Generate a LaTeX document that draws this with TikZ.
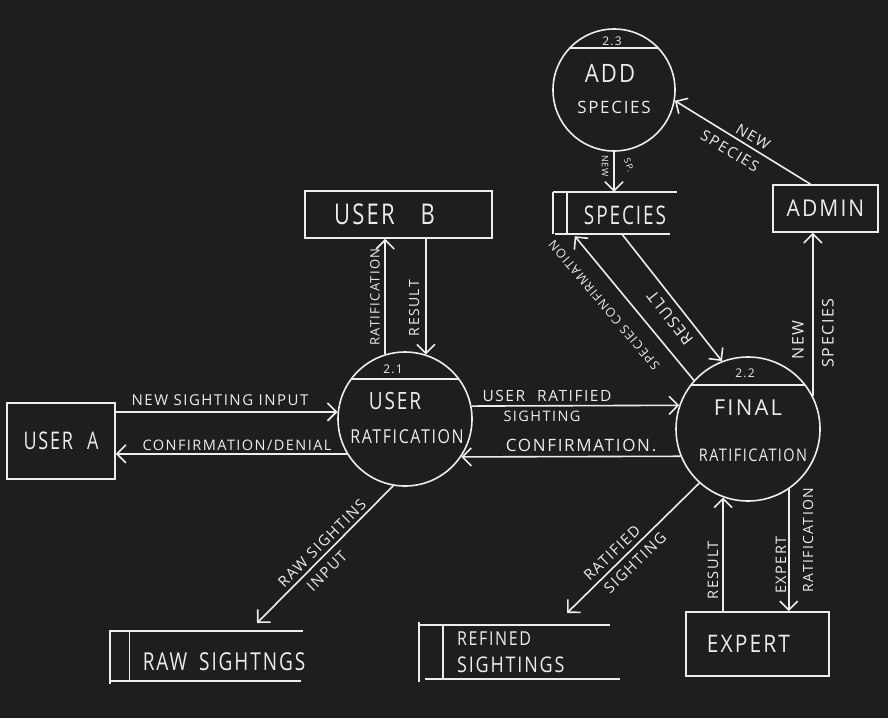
\documentclass[tikz,border=0pt]{standalone}
\usepackage{fontspec}
\setmainfont{Open Sans}[LetterSpace=10]
\usetikzlibrary{arrows.meta,calc}
\definecolor{bg}{HTML}{1E1E1E}
\definecolor{fg}{HTML}{EDEDED}
\newcommand\myfs[1]{\fontsize{#1}{#1}\selectfont}
\newcommand\Tall[2]{\scalebox{1}[#1]{#2}}
\begin{document}
\begin{tikzpicture}[x=1pt,y=-1pt,
  every node/.style={text=fg, inner sep=0pt},
  ln/.style={draw=fg, line width=1.6pt},
  arr/.style={ln, -{Straight Barb[length=9pt,width=18pt,line width=1.6pt]}},
  box/.style={draw=fg, line width=1.6pt, rectangle},
  proc/.style={draw=fg, line width=1.6pt, circle},
  fs/.style={font=\myfs{#1}}]
\fill[bg] (0,0) rectangle (888,718);
\useasboundingbox (0,0) rectangle (888,718);

% ---- entities
\node[box, minimum width=108pt, minimum height=76pt, fs=18] (ua) at (61,441) {\Tall{1.35}{USER\hspace{14pt}A}};
\node[box, minimum width=187pt, minimum height=47pt, fs=22] (ub) at (398.5,214.5) {\Tall{1.3}{USER\hspace{26pt}B}\kern28pt};
\node[box, minimum width=105pt, minimum height=47pt, fs=21] (adm) at (825.5,208.5) {\Tall{1.1}{ADMIN}};
\node[box, minimum width=143pt, minimum height=64pt, fs=21] (ex) at (757.5,644) {\Tall{1.15}{EXPERT}\kern18pt};

% ---- processes
\node[proc, minimum size=122pt] (add) at (614,90) {};
\node[proc, minimum size=134pt] (ur) at (405,419) {};
\node[proc, minimum size=144pt] (fr) at (748,429) {};
\draw[ln] ($(add.center)+(-44,-42)$) -- ($(add.center)+(44,-42)$);
\draw[ln] ($(ur.center)+(-54,-40)$) -- ($(ur.center)+(54,-40)$);
\draw[ln] ($(fr.center)+(-57,-44)$) -- ($(fr.center)+(57,-44)$);
\node[fs=12] (n23) at (612,41) {2.3};
\node[fs=22] (addt1) at (610,73) {\Tall{1.15}{ADD}};
\node[fs=17] (addt2) at (614,107) {SPECIES};
\node[fs=12] (n21) at (393,369) {2.1};
\node[fs=19] (urt1) at (395,401) {\Tall{1.25}{USER}};
\node[fs=16] (urt2) at (407,437) {\Tall{1.2}{RATFICATION}};
\node[fs=12] (n22) at (745,373) {2.2};
\node[fs=22] (frt1) at (748,408) {FINAL};
\node[fs=14.5] (frt2) at (753,455) {\Tall{1.2}{RATIFICATION}};

% ---- data stores
\node[minimum width=124pt, minimum height=42pt] (sp) at (615,213) {};
\draw[ln] (sp.north west) -- (sp.north east);
\draw[ln] ($(sp.south west)+(2,0)$) -- ($(sp.south east)+(-7,0)$);
\draw[ln] (sp.north west) -- (sp.south west);
\draw[ln] ($(sp.north west)+(14,0)$) -- ($(sp.south west)+(14,0)$);
\node[fs=19] (spt) at (625,215) {\Tall{1.35}{SPECIES}};

\node[minimum width=193pt, minimum height=50pt] (raw) at (206.5,656) {};
\draw[ln] (raw.north west) -- (raw.north east);
\draw[ln] (raw.south west) -- ($(raw.south east)+(-2,0)$);
\draw[ln] ($(raw.north west)+(0,-1)$) -- ($(raw.south west)+(0,3)$);
\draw[ln] ($(raw.north west)+(19.5,0)$) -- ($(raw.south west)+(19.5,0)$);
\node[fs=19] (rawt) at (224,662) {\Tall{1.3}{RAW\hspace{12pt}SIGHTNGS}};

\node[minimum width=201pt, minimum height=54pt] (rs) at (519.5,652) {};
\draw[ln] (rs.north west) -- ($(rs.north east)+(-10,0)$);
\draw[ln] ($(rs.south west)+(6,0)$) -- (rs.south east);
\draw[ln] ($(rs.north west)+(0,-3)$) -- ($(rs.south west)+(0,3)$);
\draw[ln] ($(rs.north west)+(24,0)$) -- ($(rs.south west)+(24,0)$);
\node[fs=16, anchor=west] (rst1) at (457,639) {\Tall{1.2}{REFINED}};
\node[fs=18, anchor=west] (rst2) at (457,665) {\Tall{1.2}{SIGHTINGS}};

% ---- flows
\draw[arr] (ua.east |- ur.174) -- (ur.174);
\draw[arr] (ur.211.5) -- (ur.211.5 -| ua.east);
\draw[arr] (ur.107) -- (ur.107 |- ub.south);
\draw[arr] (ur.72.6 |- ub.south) -- (ur.72.6);
\draw[arr] (ur.11.2) -- (fr.161.4);
\draw[arr] (fr.202) -- (ur.326.5);
\draw[arr] (add.south) -- (add.south |- sp.north);
\draw[arr] ($(adm.north)+(-15,0)$) -- (add.350);
\draw[arr] (fr.27.3) -- (fr.27.3 |- adm.south);
\draw[arr] ($(sp.south)+(7,0)$) -- (fr.111.2);
\draw[arr] (fr.138.3) -- ($(sp.south west)+(22,2)$);
\coordinate (rawtip) at (257,623);
\draw[arr] (ur.260) -- (rawtip);
\coordinate (rftip) at (567,613);
\draw[arr] (fr.228.4) -- (rftip);
\draw[arr] (fr.250.5 |- ex.north) -- (fr.250.5);
\draw[arr] (fr.304.7) -- (fr.304.7 |- ex.north);

% ---- flow labels
\node[fs=15] (lnsi) at (220,400) {NEW SIGHTING INPUT};
\node[fs=14.5] (lcd) at (237,445) {CONFIRMATION/DENIAL};
\node[fs=15.5] (lurs) at (547,396) {USER\hspace{12pt}RATIFIED};
\node[fs=14.5] (lsig) at (542,416) {SIGHTING};
\node[fs=17] (lconf) at (581,445) {CONFIRMATION.};
\node[fs=13, rotate=90] (lrat1) at (375,297) {RATIFICATION};
\node[fs=14, rotate=90] (lres3) at (414,308) {RESULT};
\node[fs=9, rotate=-90] (lnew1) at (605,166) {NEW};
\node[fs=9, rotate=-70] (lsp1) at (629,165) {SP.};
\node[fs=15, rotate=-31] (lnew2) at (753,137) {NEW};
\node[fs=15, rotate=-31] (lspc2) at (730,151) {SPECIES};
\node[fs=16, rotate=90] (lnew3) at (798,340) {NEW};
\node[fs=16, rotate=90] (lspc3) at (828,333) {SPECIES};
\node[fs=16, rotate=128] (lres1) at (670,318) {RESULT};
\node[fs=12.5, rotate=130] (lsc) at (604,305) {SPECIES CONFIRMATION};
\node[fs=14.5, rotate=90] (lres2) at (713,570) {RESULT};
\node[fs=14.5, rotate=90] (lexp) at (781,565) {EXPERT};
\node[fs=14, rotate=90] (lrat2) at (808,540) {RATIFICATION};
\node[fs=15, rotate=45] (lraw) at (322,543) {RAW SIGHTINS};
\node[fs=15, rotate=45] (linp) at (327,571) {INPUT};
\node[fs=15, rotate=44] (lrtf) at (612,553) {RATIFIED};
\node[fs=15, rotate=44] (lsg2) at (635,563) {SIGHTING};
\end{tikzpicture}
\end{document}
